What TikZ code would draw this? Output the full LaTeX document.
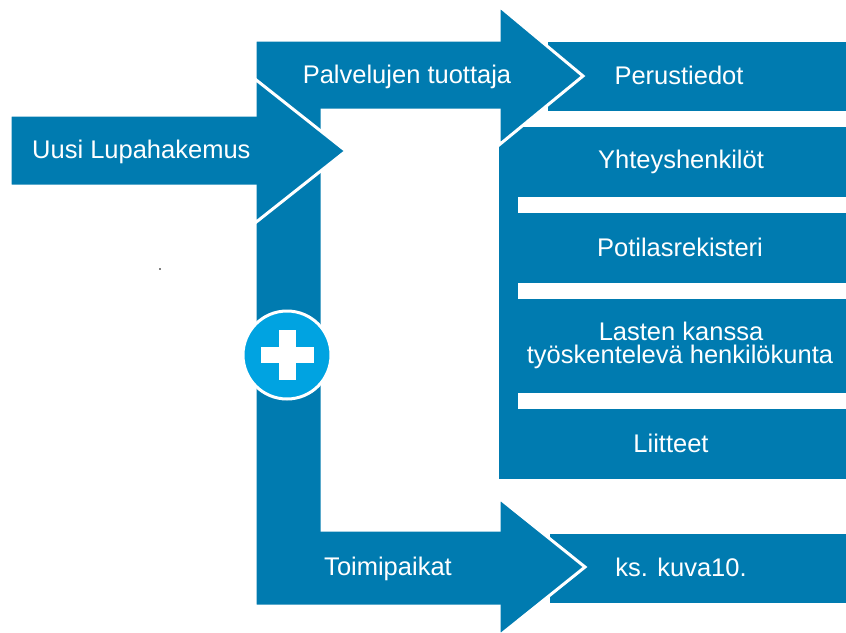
\documentclass[tikz,border=0pt]{standalone}
\usepackage{fontspec}
\setmainfont{Liberation Sans}
\definecolor{flowblue}{RGB}{0,123,176}
\definecolor{plusblue}{RGB}{0,163,225}
\begin{document}
\begin{tikzpicture}[x=1pt,y=-1pt,
  block/.style={fill=flowblue},
  gap/.style={fill=white},
  arrowshape/.style={fill=flowblue, draw=white, line width=3pt, line join=miter},
  txt/.style={text=white, font=\fontsize{25.5}{23}\selectfont, inner sep=0pt, anchor=base},
]
\clip (0,0) rectangle (846,632);

% target boxes on the right
\fill[block] (548,42) rectangle (850,111);
\fill[block] (499,127) rectangle (850,479);
\fill[gap] (518,197) rectangle (850,213);
\fill[gap] (518,283) rectangle (850,299);
\fill[gap] (518,393) rectangle (850,409);
\fill[block] (550,534) rectangle (850,603);

% bent arrow: up to the first row, down to the sites
\draw[arrowshape] (255,40) -- (499,40) -- (499,6) -- (583,76) -- (499,145)
  -- (499,110) -- (322,110) -- (322,530) -- (499,530) -- (499,498)
  -- (585,567) -- (499,636) -- (499,606) -- (255,606) -- cycle;

% incoming arrow
\draw[arrowshape] (10,115) -- (255,115) -- (255,79) -- (346,151)
  -- (255,223) -- (255,186) -- (10,186) -- cycle;

% plus badge on the vertical bar
\node[circle, fill=plusblue, draw=white, line width=3pt, minimum size=88pt,
      inner sep=0pt] (plus) at (287,355) {};
\fill[white] ([shift={(-26.5,-8)}]plus.center) rectangle ([shift={(26.5,8)}]plus.center);
\fill[white] ([shift={(-8.5,-25)}]plus.center) rectangle ([shift={(8.5,25)}]plus.center);

% small speck
\fill[gray] (159,268) rectangle (161,270);

% labels
\node[txt, anchor=base west] (uusi) at (32,158) {Uusi Lupahakemus};
\node[txt] (palv) at (407,83) {Palvelujen tuottaja};
\node[txt] (perus) at (679,84) {Perustiedot};
\node[txt] (yht) at (681,168) {Yhteyshenkilöt};
\node[txt] (pot) at (680,256) {Potilasrekisteri};
\node[txt] (last1) at (681,340.5) {Lasten kanssa};
\node[txt] (last2) at (680,363.5) {työskentelevä henkilökunta};
\node[txt] (liit) at (671,452) {Liitteet};
\node[txt] (toimi) at (388,575) {Toimipaikat};
\node[txt] (ks) at (681,576) {ks. kuva10.};
\end{tikzpicture}
\end{document}
